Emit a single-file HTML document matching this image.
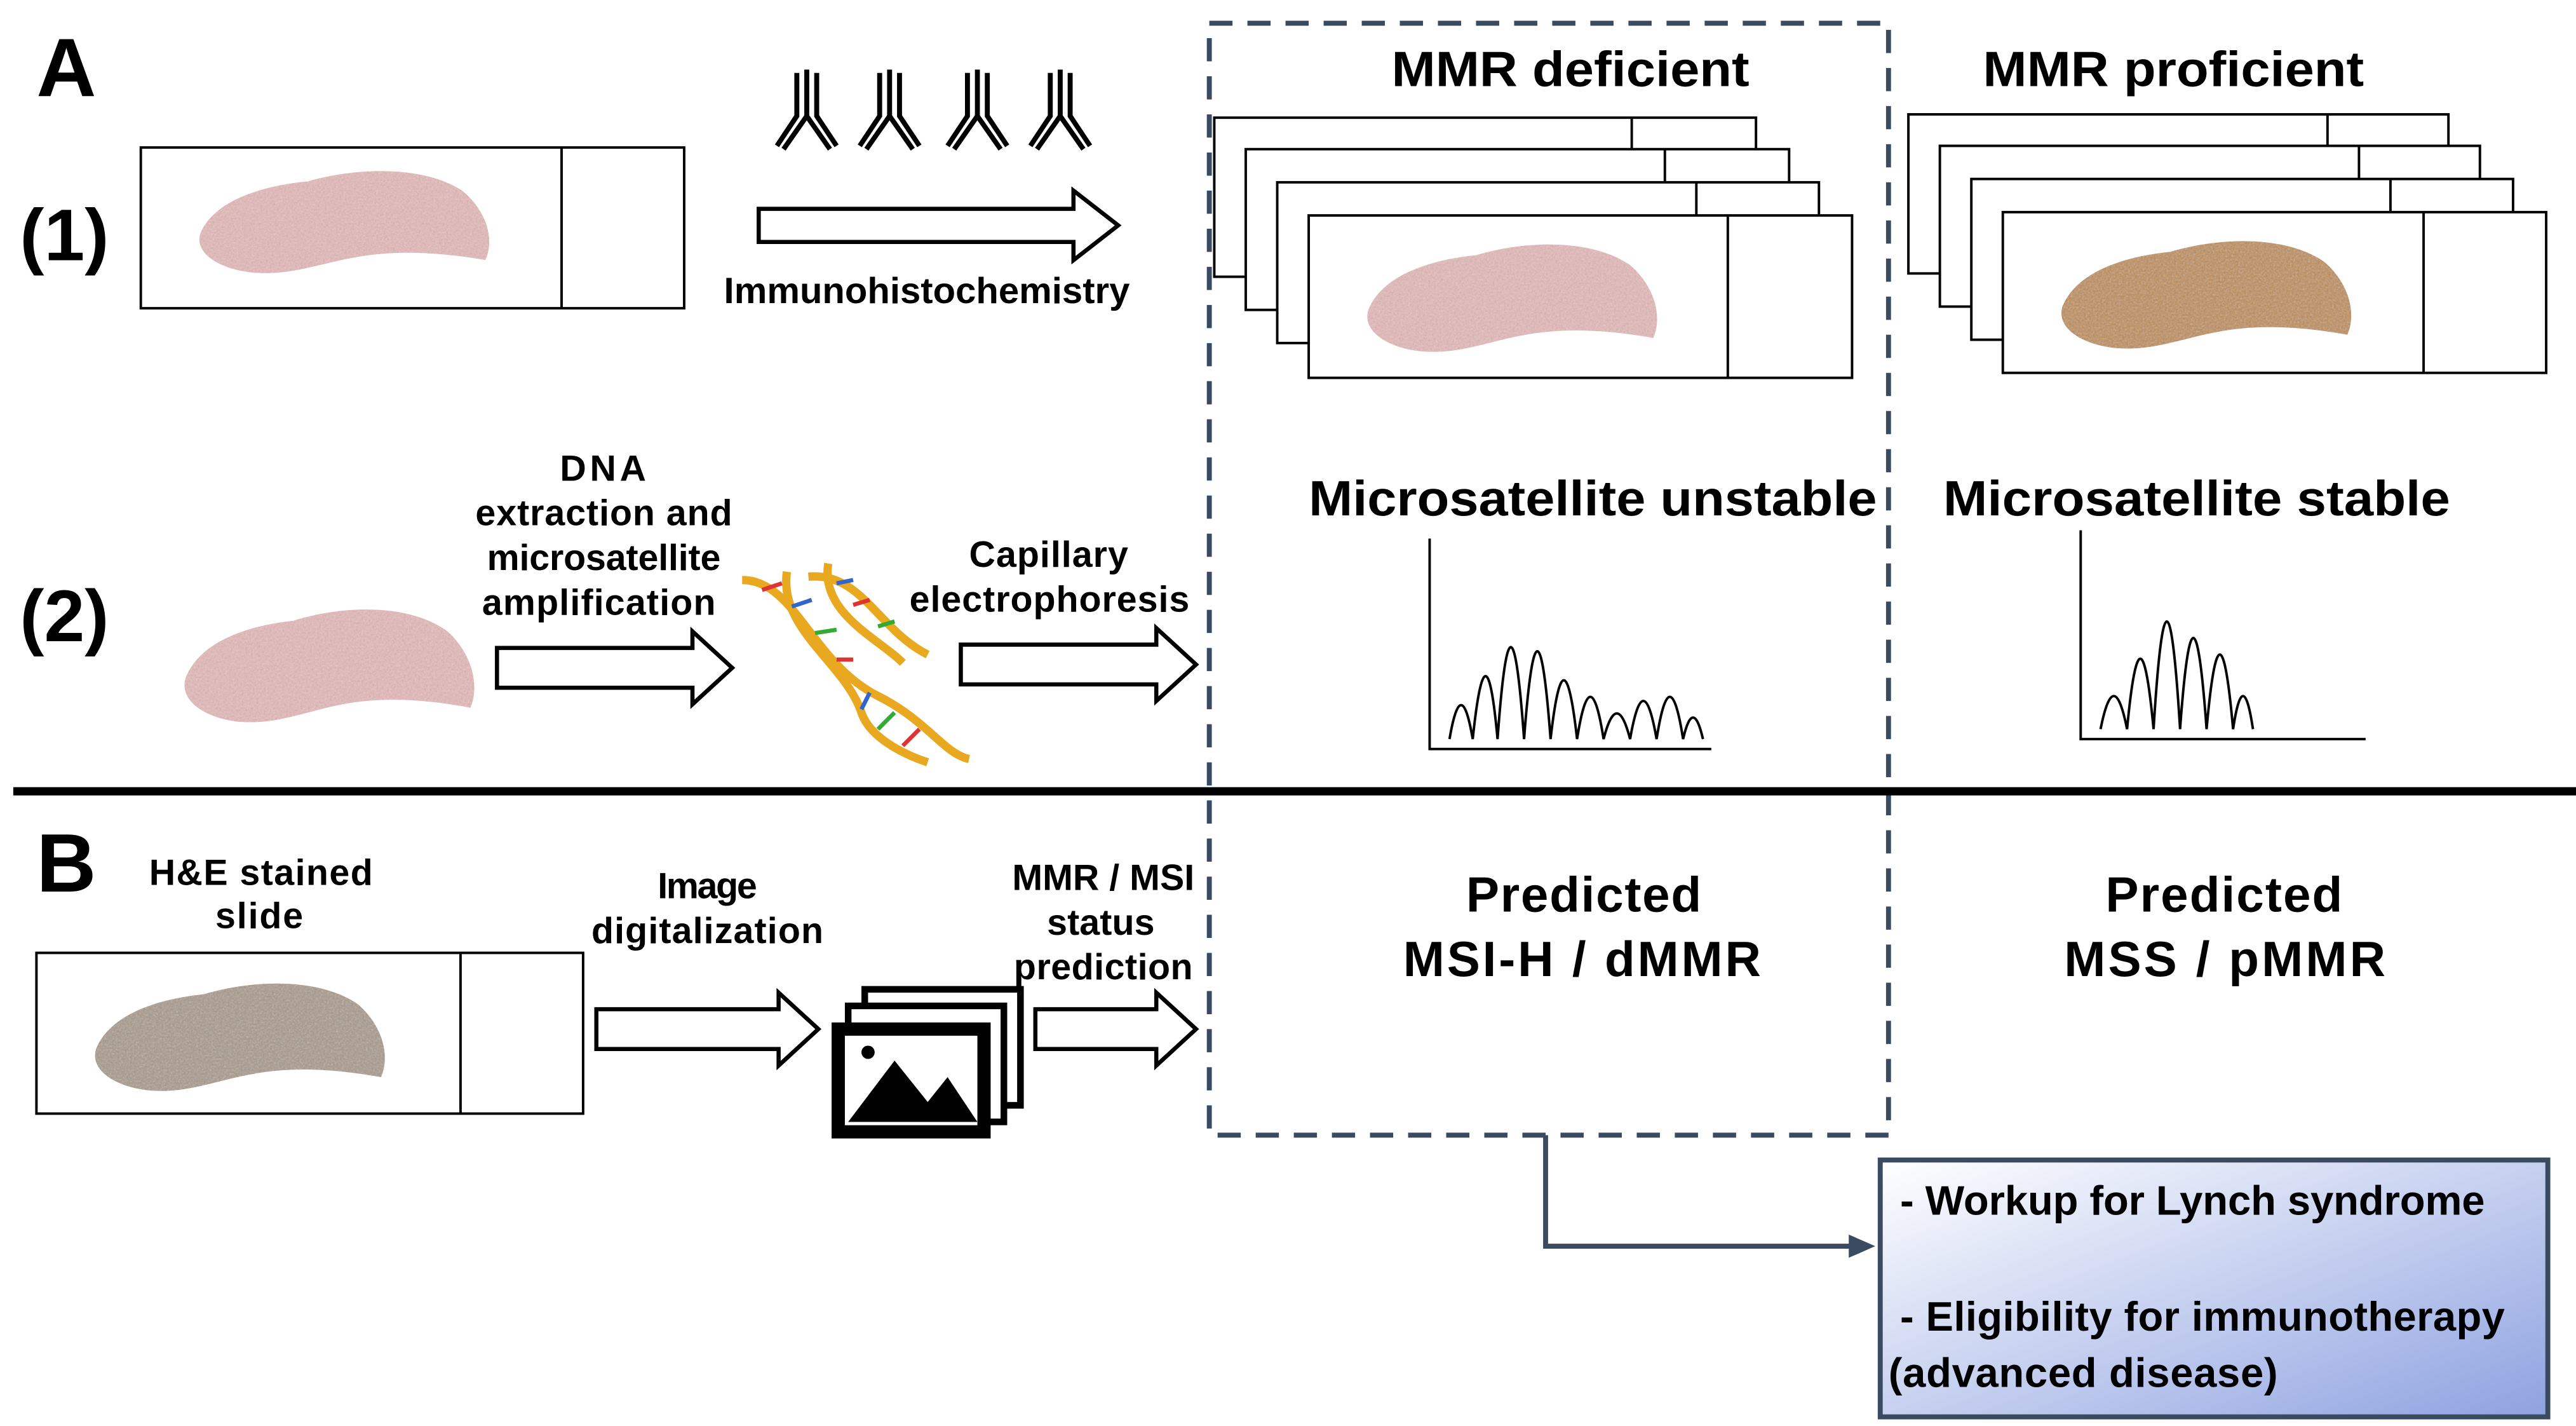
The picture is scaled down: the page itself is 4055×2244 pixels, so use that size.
<!DOCTYPE html>
<html><head><meta charset="utf-8"><style>
html,body{margin:0;padding:0;background:#fff;}
svg{display:block;}
text{font-family:"Liberation Sans",Arial,sans-serif;font-weight:bold;fill:#000;}
</style></head><body>
<svg width="4055" height="2244" viewBox="0 0 1555 860.5" xmlns="http://www.w3.org/2000/svg">
<defs>
<path id="blob" d="M0,45 C8,25 35,15 65,12 C95,3 135,2 158,18 C172,30 178,48 172,62 C150,58 122,55 95,60 C72,64 55,72 32,70 C12,68 -4,58 0,45Z"/>
<filter id="tex" x="0" y="0" width="100%" height="100%"><feTurbulence type="fractalNoise" baseFrequency="0.9" numOctaves="2" result="n"/><feColorMatrix in="n" type="saturate" values="0"/><feComponentTransfer><feFuncA type="table" tableValues="0 0.5"/></feComponentTransfer><feComposite in2="SourceGraphic" operator="in" result="t"/><feMerge><feMergeNode in="SourceGraphic"/><feMergeNode in="t"/></feMerge></filter>
<linearGradient id="bg" x1="0" y1="0" x2="1" y2="1"><stop offset="0" stop-color="#ffffff"/><stop offset="1" stop-color="#8ea2e0"/></linearGradient>
<g id="ab" fill="none" stroke="#000" stroke-width="3"><path d="M0,0 L0,28 L-14,48 M0,28 L14,48 M-6,2 L-6,28 L-18,46 M6,2 L6,28 L18,46"/></g>
</defs>

<text x="22" y="58" font-size="50">A</text>
<text x="12" y="157" font-size="44">(1)</text>
<text x="12" y="387" font-size="44">(2)</text>
<text x="22" y="538" font-size="50">B</text>

<rect x="85" y="89" width="328" height="97" fill="#fff" stroke="#000" stroke-width="1.5"/>
<line x1="339" y1="89" x2="339" y2="186" stroke="#000" stroke-width="1.5"/>
<use href="#blob" transform="translate(121,98) scale(1,0.95)" fill="#e8b9b9" filter="url(#tex)"/>

<use href="#ab" x="487" y="42"/><use href="#ab" x="537" y="42"/><use href="#ab" x="590" y="42"/><use href="#ab" x="640" y="42"/>
<path d="M458,126 L648,126 L648,115 L675,136 L648,157 L648,146 L458,146Z" fill="#fff" stroke="#000" stroke-width="2.5"/>
<text x="437" y="183" font-size="22" textLength="245" lengthAdjust="spacingAndGlyphs">Immunohistochemistry</text>

<rect x="730" y="14" width="410" height="671" fill="none" stroke="#3a4a60" stroke-width="3" stroke-dasharray="14,9"/>
<text x="840" y="52" font-size="30" textLength="216" lengthAdjust="spacingAndGlyphs">MMR deficient</text>
<text x="1197" y="52" font-size="30" textLength="230" lengthAdjust="spacingAndGlyphs">MMR proficient</text>

<g fill="#fff" stroke="#000" stroke-width="1.5">
<rect x="733" y="71" width="327" height="96"/><line x1="985" y1="71" x2="985" y2="167"/>
<rect x="752" y="90" width="328" height="97"/><line x1="1005" y1="90" x2="1005" y2="187"/>
<rect x="771" y="110" width="327" height="97"/><line x1="1024" y1="110" x2="1024" y2="207"/>
<rect x="790" y="130" width="328" height="98"/><line x1="1043" y1="130" x2="1043" y2="228"/>
<rect x="1152" y="69" width="326" height="96"/><line x1="1405" y1="69" x2="1405" y2="165"/>
<rect x="1171" y="88" width="326" height="97"/><line x1="1424" y1="88" x2="1424" y2="185"/>
<rect x="1190" y="108" width="327" height="97"/><line x1="1443" y1="108" x2="1443" y2="205"/>
<rect x="1209" y="128" width="328" height="97"/><line x1="1463" y1="128" x2="1463" y2="225"/>
</g>
<use href="#blob" transform="translate(826,142)" fill="#e8b9b9" filter="url(#tex)"/>
<use href="#blob" transform="translate(1245,140)" fill="#c08a4a" filter="url(#tex)"/>

<use href="#blob" transform="translate(112,362) scale(1,1.05)" fill="#e8b9b9" filter="url(#tex)"/>
<g font-size="22" lengthAdjust="spacingAndGlyphs">
<text x="338" y="290" textLength="52">DNA</text><text x="287" y="317" textLength="155">extraction and</text><text x="294" y="344" textLength="141">microsatellite</text><text x="291" y="371" textLength="141">amplification</text>
<text x="585" y="342" textLength="96">Capillary</text><text x="549" y="369" textLength="169">electrophoresis</text>
</g>
<path d="M300,391 L418,391 L418,381 L442,403 L418,425 L418,415 L300,415Z" fill="#fff" stroke="#000" stroke-width="2.5"/>
<path d="M580,389 L698,389 L698,379 L722,401 L698,423 L698,413 L580,413Z" fill="#fff" stroke="#000" stroke-width="2.5"/>
<g fill="none" stroke-width="5" stroke="#e8a820">
<path d="M448,350 C480,350 490,400 530,420 C560,435 570,455 585,458"/>
<path d="M475,345 C470,380 510,400 520,430 C525,445 545,455 560,460"/>
<path d="M488,348 C520,345 530,380 560,395"/>
<path d="M500,340 C495,370 530,385 545,400"/>
</g>
<g stroke-width="2.5">
<line x1="460" y1="356" x2="472" y2="352" stroke="#d33"/><line x1="478" y1="366" x2="490" y2="362" stroke="#36c"/><line x1="492" y1="382" x2="505" y2="380" stroke="#3a3"/><line x1="505" y1="398" x2="515" y2="398" stroke="#d33"/><line x1="525" y1="418" x2="520" y2="428" stroke="#36c"/><line x1="540" y1="430" x2="530" y2="440" stroke="#3a3"/><line x1="555" y1="440" x2="545" y2="450" stroke="#d33"/><line x1="505" y1="352" x2="515" y2="350" stroke="#36c"/><line x1="515" y1="365" x2="525" y2="362" stroke="#d33"/><line x1="530" y1="378" x2="540" y2="375" stroke="#3a3"/>
</g>

<text x="790" y="311" font-size="30" textLength="343" lengthAdjust="spacingAndGlyphs">Microsatellite unstable</text>
<text x="1173" y="311" font-size="30" textLength="306" lengthAdjust="spacingAndGlyphs">Microsatellite stable</text>
<g fill="none" stroke="#000" stroke-width="1.5">
<path d="M863,325 L863,452 L1033,452"/>
<path d="M875,446 Q882,405 889,446 Q897,370 904,446 Q912,335 920,446 Q928,340 936,446 Q944,375 952,446 Q960,395 968,446 Q976,415 984,446 Q992,400 1000,446 Q1008,395 1016,446 Q1022,420 1028,446"/>
<path d="M1256,320 L1256,446 L1428,446"/>
<path d="M1268,440 Q1276,400 1284,440 Q1292,355 1300,440 Q1308,310 1316,440 Q1324,330 1332,440 Q1340,350 1348,440 Q1354,400 1360,440"/>
</g>

<rect x="8" y="475" width="1547" height="5" fill="#000"/>

<g font-size="22" lengthAdjust="spacingAndGlyphs">
<text x="90" y="534" textLength="135">H&amp;E stained</text><text x="130" y="560" textLength="53">slide</text>
<text x="397" y="542" textLength="60">Image</text><text x="357" y="569" textLength="140">digitalization</text>
<text x="611" y="537" textLength="110">MMR / MSI</text><text x="632" y="564" textLength="65">status</text><text x="612" y="591" textLength="108">prediction</text>
</g>
<rect x="22" y="575" width="330" height="97" fill="#fff" stroke="#000" stroke-width="1.5"/>
<line x1="278" y1="575" x2="278" y2="672" stroke="#000" stroke-width="1.5"/>
<use href="#blob" transform="translate(58,588)" fill="#a89888" filter="url(#tex)"/>
<path d="M360,609 L470,609 L470,599 L494,621 L470,643 L470,633 L360,633Z" fill="#fff" stroke="#000" stroke-width="2.5"/>
<path d="M625,609 L698,609 L698,599 L722,621 L698,643 L698,633 L625,633Z" fill="#fff" stroke="#000" stroke-width="2.5"/>
<rect x="522" y="597" width="94" height="70" fill="#fff" stroke="#000" stroke-width="4"/>
<rect x="512" y="607" width="94" height="70" fill="#fff" stroke="#000" stroke-width="4"/>
<rect x="502" y="617" width="96" height="70" fill="#000"/>
<rect x="510" y="625" width="80" height="54" fill="#fff"/>
<path d="M512,677 L540,640 L560,665 L572,650 L590,677Z" fill="#000"/>
<circle cx="524" cy="635" r="4" fill="#000"/>

<g font-size="30" lengthAdjust="spacingAndGlyphs">
<text x="885" y="550" textLength="142">Predicted</text>
<text x="847" y="589" textLength="216">MSI-H / dMMR</text>
<text x="1271" y="550" textLength="143">Predicted</text>
<text x="1246" y="589" textLength="194">MSS / pMMR</text>
</g>

<path d="M933,685 L933,752 L1120,752" fill="none" stroke="#3a4a60" stroke-width="3"/>
<path d="M1132,752 L1116,745 L1116,759Z" fill="#3a4a60"/>
<rect x="1135" y="700" width="403" height="155" fill="url(#bg)" stroke="#3a4a60" stroke-width="3"/>
<g font-size="25" lengthAdjust="spacingAndGlyphs">
<text x="1147" y="733" textLength="353">- Workup for Lynch syndrome</text>
<text x="1147" y="803" textLength="365">- Eligibility for immunotherapy</text>
<text x="1140" y="837" textLength="235">(advanced disease)</text>
</g>
</svg>
</body></html>
